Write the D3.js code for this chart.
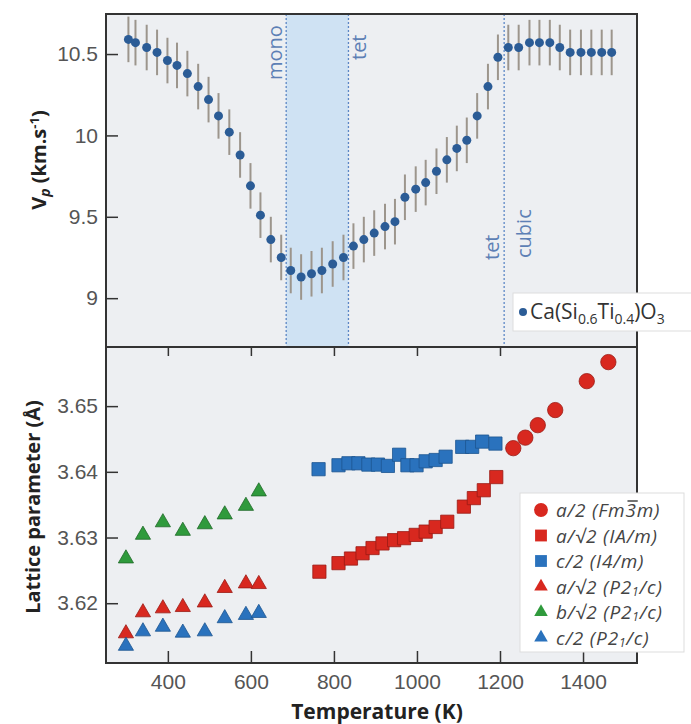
<!DOCTYPE html>
<html>
<head>
<meta charset="utf-8">
<script src="https://cdn.jsdelivr.net/npm/d3@7"></script>
<style>
  body { margin: 0; background: #fff; }
  svg { display: block; font-family: "Open Sans", sans-serif; }
  .tick text { fill: #555; font-size: 21px; }
  .axis path { display: none; }
  .axis line { stroke: #333; stroke-width: 1.5; }
  .axisTitle { font-weight: bold; fill: #222; font-size: 20px; }
  .phase { fill: #5d7fb5; font-size: 20px; }
  .leg { fill: #444; font-size: 19px; font-style: italic; letter-spacing: 0.8px; }
</style>
</head>
<body>
<div id="chart"></div>
<script>
// velocity data (top)
const vpTemps = [305, 322, 349, 374, 399, 422, 447, 473, 498, 522, 548, 574, 599, 623, 648, 673,
  696, 721, 746, 771, 797, 823, 847, 872, 897, 923, 947, 971, 997, 1021, 1047, 1072, 1096, 1120,
  1145, 1171, 1195, 1220, 1245, 1271, 1295, 1320, 1344, 1369, 1395, 1420, 1445, 1469];
const vpValues = [10.59, 10.57, 10.54, 10.51, 10.46, 10.43, 10.38, 10.30, 10.22, 10.12, 10.02, 9.88,
  9.69, 9.51, 9.36, 9.25, 9.17, 9.13, 9.15, 9.17, 9.21, 9.25, 9.32, 9.36, 9.40, 9.44, 9.47, 9.62,
  9.67, 9.71, 9.78, 9.85, 9.92, 9.97, 10.12, 10.30, 10.48, 10.54, 10.54, 10.57, 10.57, 10.57, 10.54,
  10.51, 10.51, 10.51, 10.51, 10.51];
const vpErr = 0.14;

// phase boundaries (K)
const monoTet = [685, 835];
const tetCubic = 1210;

// lattice parameters (bottom)
const cubicTemps = [1232, 1261, 1291, 1333, 1409, 1461];
const cubicA = [3.6436, 3.6452, 3.6471, 3.6494, 3.6538, 3.6567];

const tetATemps = [765, 811, 841, 869, 893, 917, 945, 969, 997, 1021, 1045, 1073, 1113, 1137, 1161, 1191];
const tetA = [3.6248, 3.6261, 3.6268, 3.6276, 3.6284, 3.6291, 3.6296, 3.6299, 3.6304, 3.6309, 3.6316,
  3.6324, 3.6347, 3.6360, 3.6372, 3.6392];

const tetCTemps = [763, 811, 835, 859, 883, 906, 930, 957, 977, 999, 1021, 1045, 1069, 1109, 1133, 1157, 1189];
const tetC = [3.6404, 3.6410, 3.6413, 3.6413, 3.6411, 3.6411, 3.6409, 3.6426, 3.6410, 3.6410, 3.6416,
  3.6418, 3.6423, 3.6438, 3.6438, 3.6446, 3.6443];

const monoTemps = [299, 340, 388, 436, 489, 537, 588, 619];
const monoA = [3.6154, 3.6186, 3.6192, 3.6194, 3.6201, 3.6223, 3.6230, 3.6229];
const monoB = [3.6268, 3.6304, 3.6323, 3.6310, 3.6320, 3.6335, 3.6348, 3.6370];
const monoC = [3.6135, 3.6157, 3.6164, 3.6155, 3.6157, 3.6177, 3.6182, 3.6185];

const xTicks = [400, 600, 800, 1000, 1200, 1400];
const vpTicks = [9, 9.5, 10, 10.5];
const latTicks = [3.62, 3.63, 3.64, 3.65];

const red = "#d8281f", green = "#2f9a3c", blue = "#2a72bd";

let W = 691, H = 724,
  left = 106, right = 637,
  top1 = 14, mid = 347, bot = 663;

let svg = d3.select("#chart").append("svg")
  .attr("width", W).attr("height", H);

let x = d3.scaleLinear().domain([251, 1530]).range([left, right]);
let yVp = d3.scaleLinear().domain([8.70, 10.746]).range([mid, top1]);
let yLat = d3.scaleLinear().domain([3.6109, 3.6590]).range([bot, mid]);

// panel backgrounds
svg.append("rect").attr("x", left).attr("y", top1).attr("width", right - left).attr("height", mid - top1)
  .attr("fill", "#edeff2");
svg.append("rect").attr("x", left).attr("y", mid).attr("width", right - left).attr("height", bot - mid)
  .attr("fill", "#edeff2");

// ---- top panel ----
let gTop = svg.append("g");

gTop.append("rect")
  .attr("x", x(monoTet[0])).attr("y", top1)
  .attr("width", x(monoTet[1]) - x(monoTet[0])).attr("height", mid - top1)
  .attr("fill", "#cfe2f3");

[monoTet[0], monoTet[1], tetCubic].forEach(t => {
  gTop.append("line")
    .attr("x1", x(t)).attr("x2", x(t)).attr("y1", top1).attr("y2", mid)
    .attr("stroke", "#5b87c5").attr("stroke-width", 1.3).attr("stroke-dasharray", "2,2");
});

function phaseLabel(txt, px, py) {
  gTop.append("text").attr("class", "phase")
    .attr("transform", "translate(" + px + "," + py + ") rotate(-90)")
    .text(txt);
}
phaseLabel("mono", x(monoTet[0]) - 4, 80);
phaseLabel("tet", x(monoTet[1]) + 18, 60);
phaseLabel("tet", x(tetCubic) - 5, 260);
phaseLabel("cubic", x(tetCubic) + 27, 258);

let vpData = vpTemps.map((t, i) => [t, vpValues[i]]);

gTop.selectAll(".err").data(vpData).enter().append("line")
  .attr("class", "err")
  .attr("x1", d => x(d[0])).attr("x2", d => x(d[0]))
  .attr("y1", d => yVp(d[1] - vpErr)).attr("y2", d => yVp(d[1] + vpErr))
  .attr("stroke", "#9c958c").attr("stroke-width", 2);

gTop.selectAll(".vp").data(vpData).enter().append("circle")
  .attr("class", "vp")
  .attr("cx", d => x(d[0])).attr("cy", d => yVp(d[1]))
  .attr("r", 4.5).attr("fill", "#2b5c96");

svg.append("g").attr("class", "axis")
  .attr("transform", "translate(" + left + ",0)")
  .call(d3.axisLeft(yVp).tickValues(vpTicks).tickSize(-12).tickPadding(8).tickFormat(d3.format("")));

// ---- bottom panel ----
let gBot = svg.append("g");

let sym = (type, size) => d3.symbol().type(type).size(size)();

function series(temps, vals, type, size, fill, stroke) {
  let data = temps.map((t, i) => [t, vals[i]]);
  gBot.append("g").selectAll("path").data(data).enter().append("path")
    .attr("d", sym(type, size))
    .attr("transform", d => "translate(" + x(d[0]) + "," + yLat(d[1]) + ")")
    .attr("fill", fill).attr("stroke", stroke).attr("stroke-width", 0.8);
}
series(tetCTemps, tetC, d3.symbolSquare, 175, blue, "#1d5590");
series(tetATemps, tetA, d3.symbolSquare, 175, red, "#9a1a14");
series(cubicTemps, cubicA, d3.symbolCircle, 185, red, "#9a1a14");
series(monoTemps, monoB, d3.symbolTriangle, 100, green, "#1f6a28");
series(monoTemps, monoA, d3.symbolTriangle, 100, red, "#9a1a14");
series(monoTemps, monoC, d3.symbolTriangle, 100, blue, "#1d5590");

svg.append("g").attr("class", "axis")
  .attr("transform", "translate(" + left + ",0)")
  .call(d3.axisLeft(yLat).tickValues(latTicks).tickSize(-12).tickPadding(8).tickFormat(d3.format(".2f")));

svg.append("g").attr("class", "axis")
  .attr("transform", "translate(0," + bot + ")")
  .call(d3.axisBottom(x).tickValues(xTicks).tickSize(-12).tickPadding(11).tickFormat(d3.format("")));

svg.append("g").attr("class", "axis")
  .attr("transform", "translate(0," + mid + ")")
  .call(d3.axisTop(x).tickValues(xTicks.slice(0, 5)).tickSize(-9).tickFormat(""));

// frames
svg.append("rect").attr("x", left).attr("y", top1).attr("width", right - left).attr("height", mid - top1)
  .attr("fill", "none").attr("stroke", "#333").attr("stroke-width", 2);
svg.append("rect").attr("x", left).attr("y", mid).attr("width", right - left).attr("height", bot - mid)
  .attr("fill", "none").attr("stroke", "#333").attr("stroke-width", 2);

// ---- legends ----
let legTop = svg.append("g");
legTop.append("rect").attr("x", 513).attr("y", 293).attr("width", 180).attr("height", 38)
  .attr("fill", "#fff").attr("stroke", "#ddd");
legTop.append("circle").attr("cx", 523).attr("cy", 312).attr("r", 4).attr("fill", "#2b5c96");
let tl = legTop.append("text").attr("x", 530).attr("y", 319).attr("fill", "#333").style("font-size", "21px");
tl.append("tspan").text("Ca(Si");
tl.append("tspan").attr("dy", 5).style("font-size", "14px").text("0.6");
tl.append("tspan").attr("dy", -5).text("Ti");
tl.append("tspan").attr("dy", 5).style("font-size", "14px").text("0.4");
tl.append("tspan").attr("dy", -5).text(")O");
tl.append("tspan").attr("dy", 5).style("font-size", "14px").text("3");

const legRows = [
  { type: d3.symbolCircle, size: 150, fill: red, parts: [["a/2 (Fm"], ["3", "bar"], ["m)"]] },
  { type: d3.symbolSquare, size: 140, fill: red, parts: [["a/√2 (IA/m)"]] },
  { type: d3.symbolSquare, size: 140, fill: blue, parts: [["c/2 (I4/m)"]] },
  { type: d3.symbolTriangle, size: 80, fill: red, parts: [["a/√2 (P2"], ["1", "sub"], ["/c)"]] },
  { type: d3.symbolTriangle, size: 80, fill: green, parts: [["b/√2 (P2"], ["1", "sub"], ["/c)"]] },
  { type: d3.symbolTriangle, size: 80, fill: blue, parts: [["c/2 (P2"], ["1", "sub"], ["/c)"]] }
];

let legBot = svg.append("g");
legBot.append("rect").attr("x", 520).attr("y", 493).attr("width", 164).attr("height", 159)
  .attr("fill", "#fff").attr("stroke", "#ddd");
legRows.forEach((r, i) => {
  let cy = 510 + i * 25.5;
  legBot.append("path").attr("d", sym(r.type, r.size))
    .attr("transform", "translate(541," + cy + ")").attr("fill", r.fill);
  let t = legBot.append("text").attr("class", "leg").attr("x", 556).attr("y", cy + 7);
  let prevSub = false, charIdx = 0;
  r.parts.forEach(p => {
    let s = t.append("tspan").text(p[0]);
    if (p[1] === "sub") s.attr("dy", 2).style("font-size", "12px");
    else if (prevSub) s.attr("dy", -2);
    if (p[1] === "bar") {
      // overline above the 3 of Fm-3m
      let n = t.node();
      let x0 = n.getStartPositionOfChar(charIdx).x, x1 = n.getEndPositionOfChar(charIdx).x;
      legBot.append("line").attr("x1", x0 + 2).attr("x2", x1 + 1)
        .attr("y1", cy - 9).attr("y2", cy - 9).attr("stroke", "#444").attr("stroke-width", 1.5);
    }
    prevSub = p[1] === "sub";
    charIdx += p[0].length;
  });
});

// ---- axis titles ----
let vt = svg.append("text").attr("class", "axisTitle")
  .attr("transform", "translate(46,160) rotate(-90)").attr("text-anchor", "middle");
vt.append("tspan").text("V");
vt.append("tspan").attr("dy", 4).style("font-size", "14px").style("font-style", "italic").text("p");
vt.append("tspan").attr("dy", -4).text(" (km.s");
vt.append("tspan").attr("dy", -7).style("font-size", "13px").text("-1");
vt.append("tspan").attr("dy", 7).text(")");

svg.append("text").attr("class", "axisTitle")
  .attr("transform", "translate(40,507) rotate(-90)").attr("text-anchor", "middle")
  .text("Lattice parameter (Å)");

svg.append("text").attr("class", "axisTitle")
  .attr("x", 377).attr("y", 719).attr("text-anchor", "middle")
  .style("font-size", "21px")
  .text("Temperature (K)");
</script>
</body>
</html>
